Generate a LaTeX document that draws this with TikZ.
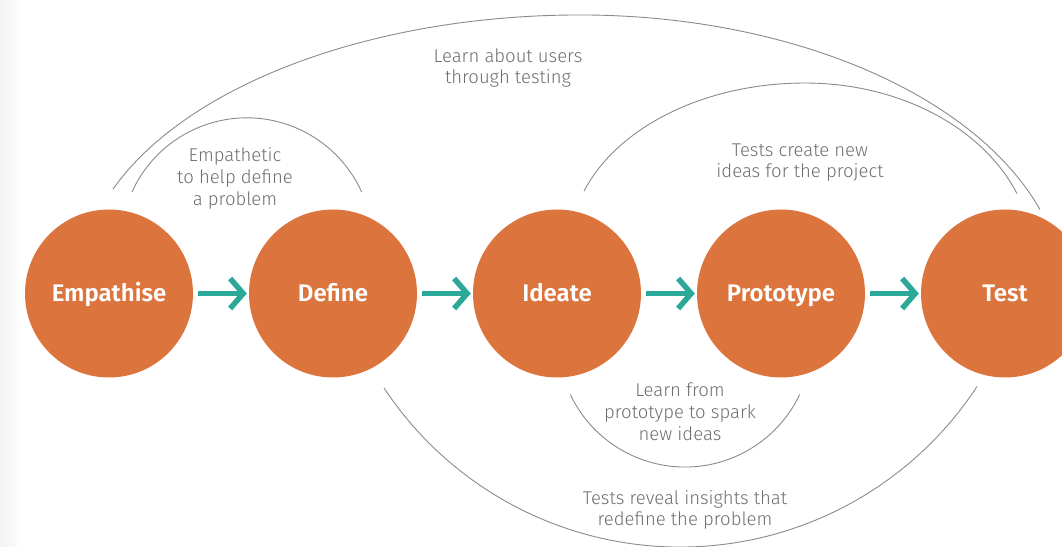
\documentclass[tikz,border=0pt]{standalone}
\usepackage{fontspec}
\setmainfont{Fira Sans}
\newfontfamily\lightfont{Fira Sans Light}
\newfontfamily\semifont{Fira Sans SemiBold}
\usetikzlibrary{positioning,arrows.meta}
\definecolor{stageorange}{HTML}{DB743D}
\definecolor{flowteal}{HTML}{2AA898}
\definecolor{notegray}{HTML}{6E6E6E}
\definecolor{cyclegray}{HTML}{8A8A8A}

\begin{document}
\begin{tikzpicture}[x=1pt,y=1pt]
\tikzstyle{stage}=[circle,fill=stageorange,minimum size=168pt,inner sep=0pt,text=white,text height=19pt,text depth=3pt,font=\semifont\fontsize{24}{28}\selectfont];
\tikzstyle{flow}=[flowteal,line width=5.5pt,-{Straight Barb[length=13pt,width=30pt,sharp]},shorten <=5pt,shorten >=2pt];
\tikzstyle{cycleline}=[cyclegray,line width=0.9pt];
\tikzstyle{note}=[align=center,text=notegray,font=\lightfont\fontsize{18.5}{21.8}\selectfont];
\useasboundingbox (0,0) rectangle (1062,546);
\shade[left color=black!5,right color=white] (0,0) rectangle (22,546);
\node[stage] (emp) at (109,252.5) {Empathise};
\node[stage,right=55.6pt of emp] (def) {Define};
\node[stage,right=55.6pt of def] (ide) {Ideate};
\node[stage,right=55.6pt of ide] (pro) {Prototype};
\node[stage,right=55.6pt of pro] (tes) {Test};
\draw[flow] (emp) -- (def);
\draw[flow] (def) -- (ide);
\draw[flow] (ide) -- (pro);
\draw[flow] (pro) -- (tes);
\coordinate (empdef) at (132,354);
\coordinate (emptes) at (112.9,356.7);
\coordinate (idetes) at (584,354.8);
\coordinate (proide) at (570.3,151.5);
\coordinate (tesdef) at (384,158);
\draw[cycleline] (empdef) arc[start angle=155.7,end angle=24.3,radius=126];
\draw[cycleline] (emptes) arc[start angle=159.1,end angle=90,x radius=500,y radius=271]
  arc[start angle=90,end angle=18.5,x radius=485,y radius=285];
\draw[cycleline] (idetes) arc[start angle=160.1,end angle=90,x radius=235,y radius=164]
  arc[start angle=90,end angle=21.6,x radius=228,y radius=175];
\draw[cycleline] (proide) arc[start angle=205.4,end angle=334.6,radius=127];
\draw[cycleline] (tesdef) arc[start angle=213.5,end angle=326.8,radius=355];
\node[note] (users) at (508,478) {Learn about users\\through testing};
\node[note] (empathetic) at (235,367.5) {Empathetic\\to help define\\a problem};
\node[note] (newideas) at (800,383.5) {Tests create new\\ideas for the project};
\node[note] (spark) at (680,134.5) {Learn from\\prototype to spark\\new ideas};
\node[note] (insights) at (685,36) {Tests reveal insights that\\redefine the problem};
\end{tikzpicture}
\end{document}
